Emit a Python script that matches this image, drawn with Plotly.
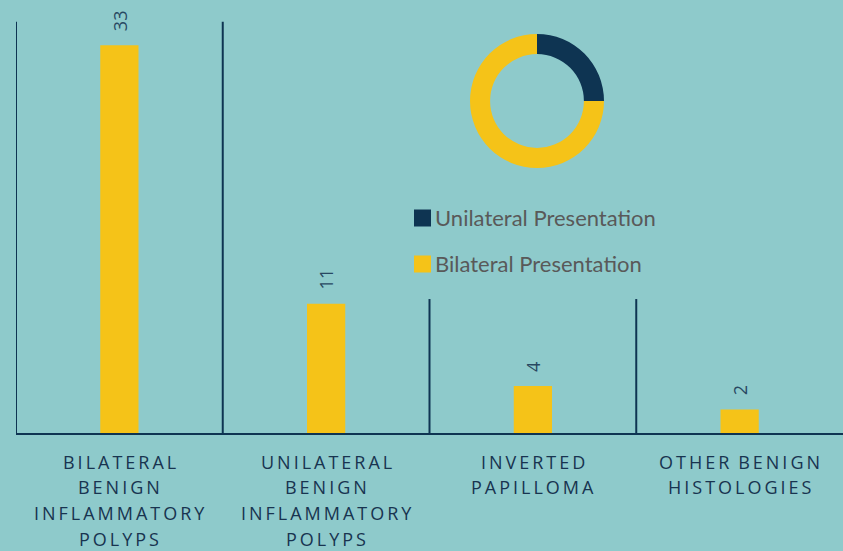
import plotly.graph_objects as go

# ---- data ----
categories = ["BILATERAL<br>BENIGN<br>INFLAMMATORY<br>POLYPS",
              "UNILATERAL<br>BENIGN<br>INFLAMMATORY<br>POLYPS",
              "INVERTED<br>PAPILLOMA",
              "OTHER BENIGN<br>HISTOLOGIES"]
counts = [33, 11, 4, 2]
donut_labels = ["Unilateral Presentation", "Bilateral Presentation"]
donut_values = [25, 75]
separator_heights = [35, 35, 11.4, 11.4]

# ---- styles ----
BG = "rgb(142,202,203)"
YELLOW = "rgb(245,195,24)"
NAVY = "rgb(14,52,82)"
LABEL = "rgb(24,52,80)"
W, H = 843, 551


def spaced(s):
    words = s.split(" ")
    return "\u2009\u2009\u2009".join("\u2009".join(w) for w in words)


x_idx = list(range(len(categories)))

fig = go.Figure()
fig.add_trace(go.Bar(x=x_idx, y=counts, marker=dict(color=YELLOW, line=dict(width=0)),
                     width=0.185, showlegend=False, hoverinfo="skip"))

fig.add_trace(go.Pie(labels=donut_labels, values=donut_values, hole=0.70, sort=False,
                     direction="clockwise", rotation=0, textinfo="none",
                     marker=dict(colors=[NAVY, YELLOW], line=dict(width=0)),
                     domain=dict(x=[470 / W, 604 / W], y=[(H - 168) / H, (H - 34) / H]),
                     showlegend=False))

annotations = []
for i, v in enumerate(counts):
    annotations.append(dict(x=i, y=v, xref="x", yref="y", text=str(v), showarrow=False,
                            textangle=-90, yanchor="bottom", yshift=12,
                            font=dict(family="Open Sans", size=18, color="rgb(40,72,98)")))
for i, c in enumerate(categories):
    for k, line in enumerate(c.split("<br>")):
        yc = 461.5 + 25.8 * k
        annotations.append(dict(x=i, y=(H - yc) / H, xref="x", yref="paper", text=spaced(line),
                                showarrow=False, yanchor="middle", align="center",
                                font=dict(family="Open Sans", size=18, color=LABEL, weight=500)))

# manual legend
shapes = []
legend_colors = [NAVY, YELLOW]
legend_y = [218, 264]
for lab, col, yc in zip(donut_labels, legend_colors, legend_y):
    shapes.append(dict(type="rect", xref="paper", yref="paper",
                       x0=414 / W, x1=431 / W, y0=(H - yc - 8.5) / H, y1=(H - yc + 8.5) / H,
                       fillcolor=col, line=dict(width=0)))
    annotations.append(dict(x=433 / W, y=(H - yc) / H, xref="paper", yref="paper", text=lab,
                            showarrow=False, xanchor="left", yanchor="middle",
                            font=dict(family="Lato", size=22, color="rgb(89,89,89)")))

for i, h in enumerate(separator_heights):
    shapes.append(dict(type="line", xref="x", yref="y", x0=i - 0.5, x1=i - 0.5, y0=0, y1=h,
                       line=dict(color=NAVY, width=2)))

fig.update_layout(
    width=W, height=H, margin=dict(l=0, r=0, t=0, b=0),
    paper_bgcolor=BG, plot_bgcolor=BG,
    xaxis=dict(domain=[16 / W, 1.0], range=[-0.5, 3.5], showgrid=False, zeroline=False,
               showticklabels=False, ticks="", showline=True, linecolor=NAVY, linewidth=2),
    yaxis=dict(domain=[(H - 433) / H, 1.0], range=[0, 433 / 11.75], visible=False,
               showgrid=False, zeroline=False),
    annotations=annotations, shapes=shapes, bargap=0.8,
)

fig.write_html("out.html", config={"displayModeBar": False},
               post_script="document.body.style.margin='0';")
